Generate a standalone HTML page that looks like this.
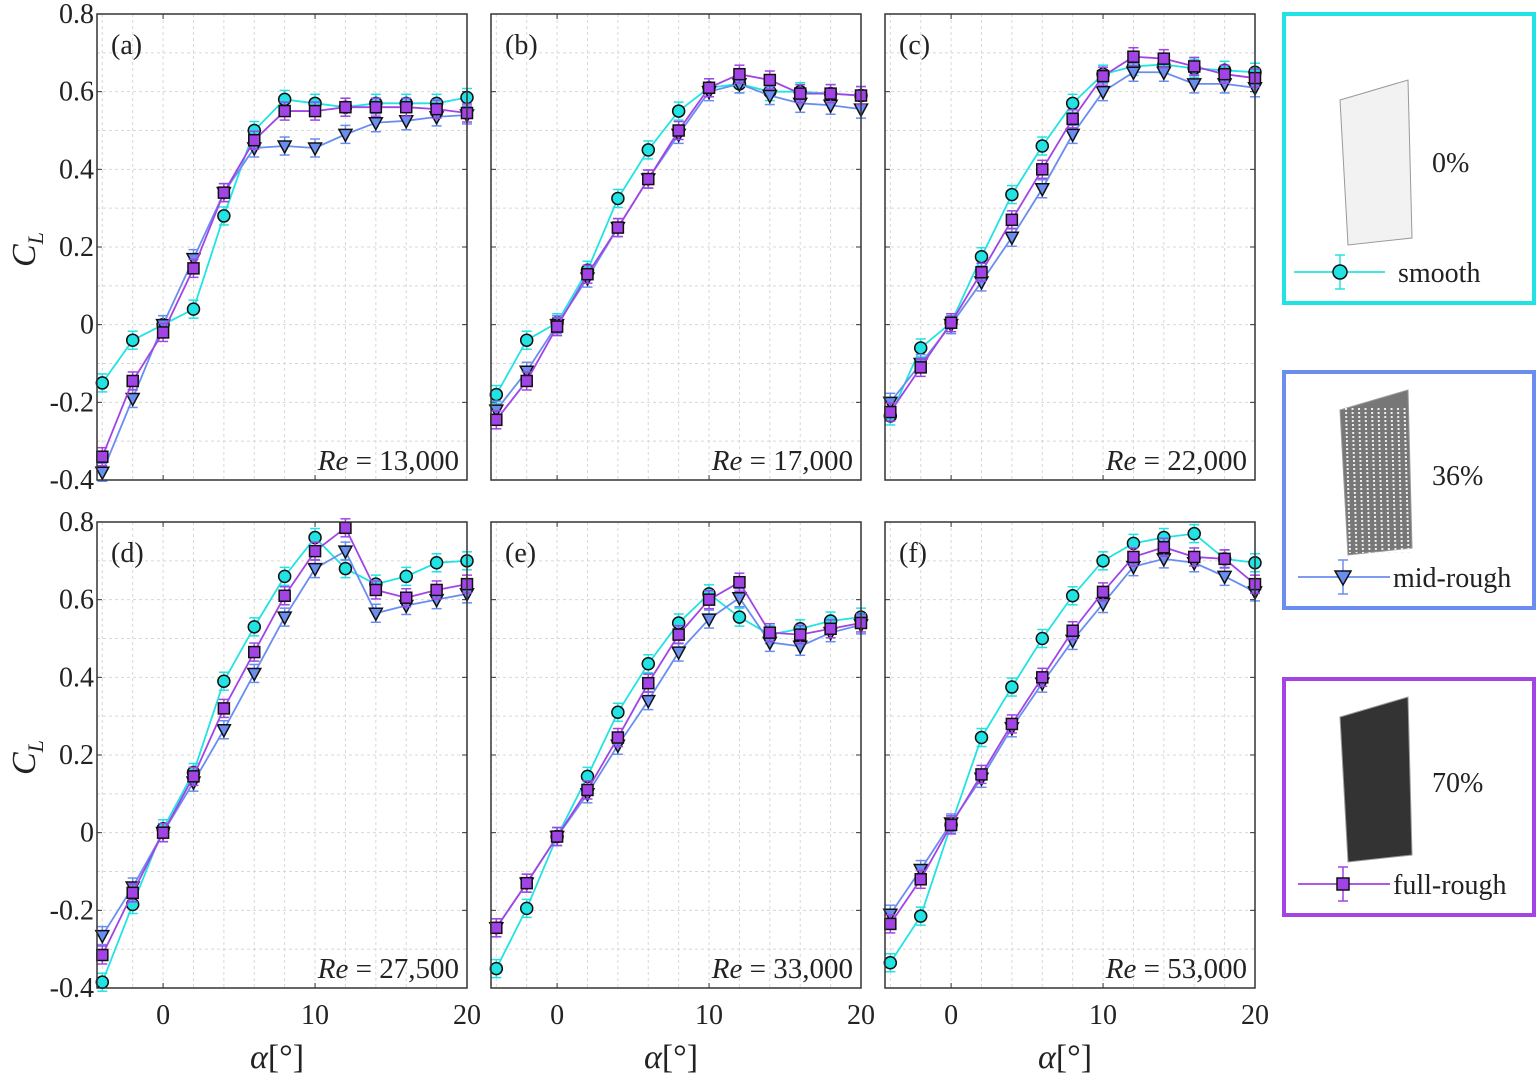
<!DOCTYPE html>
<html><head><meta charset="utf-8">
<style>
body{margin:0;background:#fff;width:1539px;height:1076px;overflow:hidden;font-family:"Liberation Serif",serif}
svg{position:absolute;left:0;top:0}
</style></head>
<body>
<svg id="chart" width="1539" height="1076" xmlns="http://www.w3.org/2000/svg"></svg>
<script>
const alphas=[-4,-2,0,2,4,6,8,10,12,14,16,18,20];
const panelLabels=["(a)","(b)","(c)","(d)","(e)","(f)"];
const reLabels=["13,000","17,000","22,000","27,500","33,000","53,000"];
const smooth=[
[-0.15,-0.04,0.0,0.04,0.28,0.50,0.58,0.57,0.56,0.57,0.57,0.57,0.585],
[-0.18,-0.04,0.005,0.14,0.325,0.45,0.55,0.61,0.62,0.60,0.60,0.595,0.59],
[-0.235,-0.06,0.005,0.175,0.335,0.46,0.57,0.645,0.665,0.67,0.66,0.655,0.65],
[-0.385,-0.185,0.01,0.155,0.39,0.53,0.66,0.76,0.68,0.64,0.66,0.695,0.70],
[-0.35,-0.195,-0.01,0.145,0.31,0.435,0.54,0.615,0.555,0.51,0.525,0.545,0.555],
[-0.335,-0.215,0.02,0.245,0.375,0.50,0.61,0.70,0.745,0.76,0.77,0.705,0.695]];
const midRough=[
[-0.38,-0.19,0.0,0.17,0.34,0.455,0.46,0.455,0.49,0.52,0.525,0.535,0.54],
[-0.22,-0.12,0.0,0.12,0.25,0.375,0.49,0.60,0.62,0.59,0.57,0.565,0.555],
[-0.2,-0.1,0.0,0.11,0.225,0.35,0.49,0.60,0.65,0.65,0.62,0.62,0.61],
[-0.265,-0.14,0.0,0.13,0.265,0.41,0.555,0.68,0.725,0.565,0.585,0.60,0.615],
[-0.245,-0.13,-0.01,0.10,0.225,0.34,0.465,0.55,0.605,0.49,0.48,0.515,0.535],
[-0.21,-0.095,0.025,0.14,0.27,0.385,0.495,0.59,0.685,0.705,0.695,0.66,0.62]];
const fullRough=[
[-0.34,-0.145,-0.02,0.145,0.34,0.475,0.55,0.55,0.56,0.56,0.56,0.555,0.545],
[-0.245,-0.145,-0.005,0.13,0.25,0.375,0.50,0.61,0.645,0.63,0.595,0.595,0.59],
[-0.225,-0.11,0.005,0.135,0.27,0.40,0.53,0.64,0.69,0.685,0.665,0.645,0.635],
[-0.315,-0.155,0.0,0.145,0.32,0.465,0.61,0.725,0.785,0.625,0.605,0.625,0.64],
[-0.245,-0.13,-0.01,0.11,0.245,0.385,0.51,0.60,0.645,0.515,0.51,0.525,0.54],
[-0.235,-0.12,0.02,0.15,0.28,0.40,0.52,0.62,0.71,0.735,0.71,0.705,0.64]];
const yTicks=[0.8,0.6,0.4,0.2,0,-0.2,-0.4];
const yTickText=["0.8","0.6","0.4","0.2","0","-0.2","-0.4"];
const xTicks=[0,10,20];

const NS="http://www.w3.org/2000/svg";
const svg=document.getElementById('chart');
function mk(tag,attrs,parent,text){const e=document.createElementNS(NS,tag);for(const k in attrs)e.setAttribute(k,attrs[k]);if(text!==undefined)e.textContent=text;(parent||svg).appendChild(e);return e;}

const colL=[97,491,885], W=370, rowT=[14,522], H=466;
const XMIN=-4.35,XMAX=20,YMIN=-0.4,YMAX=0.8;
const C={s:"#22e3e3",m:"#6a8ef0",f:"#a243e6"};

for(let p=0;p<6;p++){
  const L=colL[p%3],T=rowT[Math.floor(p/3)];
  const xs=v=>L+(v-XMIN)/(XMAX-XMIN)*W;
  const ys=v=>T+(YMAX-v)/(YMAX-YMIN)*H;
  const g=mk('g',{},svg);
  
  
  for(let a=-4;a<=20;a+=2){mk('line',{x1:xs(a),x2:xs(a),y1:T,y2:T+H,stroke:'#d8d8d8','stroke-dasharray':'3,3','stroke-width':1},g);}
  for(let v=-0.3;v<0.8;v+=0.1){mk('line',{x1:L,x2:L+W,y1:ys(v),y2:ys(v),stroke:'#d8d8d8','stroke-dasharray':'3,3','stroke-width':1},g);}
  // ticks
  xTicks.forEach(t=>{mk('line',{x1:xs(t),x2:xs(t),y1:T+H,y2:T+H-5,stroke:'#333'},g);mk('line',{x1:xs(t),x2:xs(t),y1:T,y2:T+5,stroke:'#333'},g);
    if(p>=3){const tx=mk('text',{x:xs(t),y:T+H+36,'font-size':28,'text-anchor':'middle',fill:'#222'},g,String(t));}});
  yTicks.forEach((t,i)=>{mk('line',{x1:L,x2:L+5,y1:ys(t),y2:ys(t),stroke:'#333'},g);mk('line',{x1:L+W,x2:L+W-5,y1:ys(t),y2:ys(t),stroke:'#333'},g);
    if(p%3===0){const tx=mk('text',{x:L-3,y:ys(t)+9,'font-size':28,'text-anchor':'end',fill:'#222'},g,yTickText[i]);}});
  const series=[[smooth[p],C.s,'circle','smooth'],[midRough[p],C.m,'tri','mid-rough'],[fullRough[p],C.f,'sq','full-rough']];
  series.forEach(([d,col,mark,nm])=>{
    const pts=d.map((v,i)=>xs(alphas[i])+','+ys(v)).join(' ');
    const pl=mk('polyline',{points:pts,fill:'none',stroke:col,'stroke-width':1.8},g);
    
    d.forEach((v,i)=>{const x=xs(alphas[i]),y=ys(v);
      mk('line',{x1:x,x2:x,y1:y-9,y2:y+9,stroke:col,'stroke-width':1.5},g);
      mk('line',{x1:x-5,x2:x+5,y1:y-9,y2:y-9,stroke:col,'stroke-width':1.5},g);
      mk('line',{x1:x-5,x2:x+5,y1:y+9,y2:y+9,stroke:col,'stroke-width':1.5},g);
      let m;
      if(mark==='circle')m=mk('circle',{cx:x,cy:y,r:6,fill:col,stroke:'#111','stroke-width':1.5},g);
      else if(mark==='tri')m=mk('polygon',{points:`${x-6.5},${y-5} ${x+6.5},${y-5} ${x},${y+7}`,fill:col,stroke:'#111','stroke-width':1.5},g);
      else m=mk('rect',{x:x-5.5,y:y-5.5,width:11,height:11,fill:col,stroke:'#111','stroke-width':1.5},g);
      });
  });
  mk('rect',{x:L,y:T,width:W,height:H,fill:'none',stroke:'#333','stroke-width':1.5},g);
  const pl=mk('text',{x:L+14,y:T+40,'font-size':28,fill:'#222'},g,panelLabels[p]);
  
  const re=mk('text',{x:L+W-8,y:T+H-10,'font-size':29,'text-anchor':'end',fill:'#222'},g);
  
  mk('tspan',{'font-style':'italic'},re,'Re');mk('tspan',{},re,' = '+reLabels[p]);
  if(p%3===0){const yl=mk('text',{x:0,y:0,'font-size':34,'font-style':'italic',fill:'#222',transform:`translate(${L-62},${T+H/2+20}) rotate(-90)`},g);
    
    mk('tspan',{},yl,'C');mk('tspan',{'font-size':22,dy:8},yl,'L');}
  if(p>=3){const xl=mk('text',{x:L+W/2-32,y:T+H+80,'font-size':34,fill:'#222'},g);
    
    mk('tspan',{'font-style':'italic'},xl,'α');mk('tspan',{},xl,'[°]');}
}
// legends
const legs=[[14,303,C.s,'0%','smooth','circle'],[372,608,C.m,'36%','mid-rough','tri'],[679,915,C.f,'70%','full-rough','sq']];
legs.forEach(([t,b,col,pct,nm,mark],k)=>{
  const g=mk('g',{},svg);
  
  mk('rect',{x:1284,y:t,width:250,height:b-t,fill:'#fff',stroke:col,'stroke-width':4},g);
  const wx=1340,wy=t+(k===0?66:18);
  const wing=mk('polygon',{points:`${wx},${wy+20} ${wx+68},${wy} ${wx+72},${wy+158} ${wx+8},${wy+165}`,fill:k===0?'#f2f2f2':(k===1?'#777':'#333'),stroke:'#999'},g);
  
  if(k===1){for(let i=0;i<10;i++){mk('line',{x1:wx+6+i*6.5,y1:wy+18,x2:wx+10+i*6.5,y2:wy+163,stroke:'#eee','stroke-width':2,'stroke-dasharray':'2,2'},g);}}
  const pt=mk('text',{x:1432,y:t+(k===0?158:113),'font-size':28,fill:'#222'},g,pct);
  
  const ly=b-31, lx=k===0?1340:1343;
  mk('line',{x1:k===0?1294:1298,x2:k===0?1385:1390,y1:ly,y2:ly,stroke:col,'stroke-width':1.8},g);
  mk('line',{x1:lx,x2:lx,y1:ly-17,y2:ly+17,stroke:col,'stroke-width':1.5},g);
  mk('line',{x1:lx-5,x2:lx+5,y1:ly-17,y2:ly-17,stroke:col,'stroke-width':1.5},g);
  mk('line',{x1:lx-5,x2:lx+5,y1:ly+17,y2:ly+17,stroke:col,'stroke-width':1.5},g);
  if(mark==='circle')mk('circle',{cx:lx,cy:ly,r:7,fill:col,stroke:'#111','stroke-width':1.5},g);
  else if(mark==='tri')mk('polygon',{points:`${lx-8},${ly-6} ${lx+8},${ly-6} ${lx},${ly+8}`,fill:col,stroke:'#111','stroke-width':1.5},g);
  else mk('rect',{x:lx-6,y:ly-6,width:12,height:12,fill:col,stroke:'#111','stroke-width':1.5},g);
  const lt=mk('text',{x:k===0?1398:1393,y:ly+10,'font-size':28,fill:'#222'},g,nm);
  
});
</script>
</body></html>
